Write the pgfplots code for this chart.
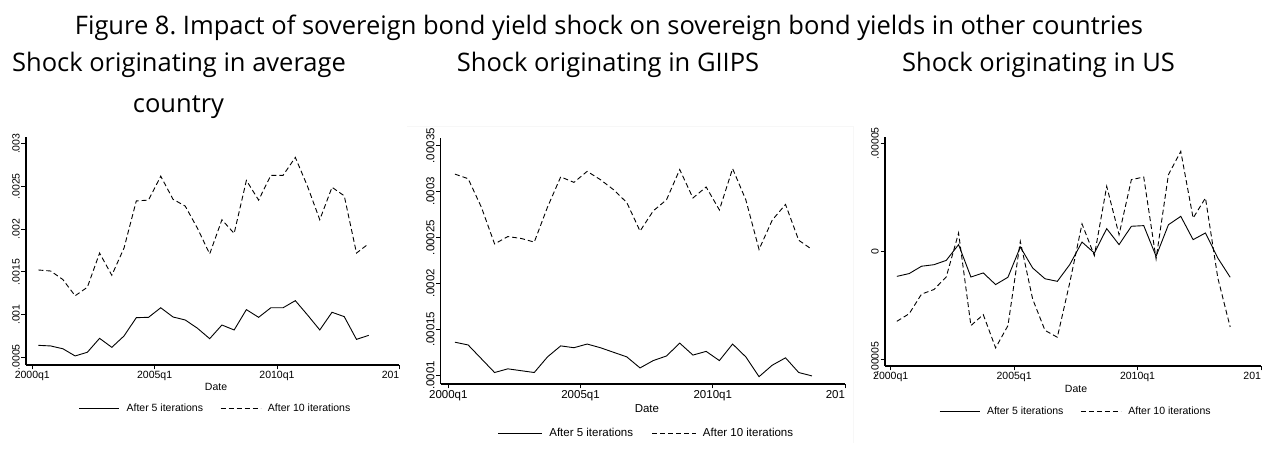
\documentclass[border=0pt]{standalone}
\usepackage{pgfplots}
\pgfplotsset{compat=1.18}
\usepackage{pgfplotstable}
\usepackage{fontspec}
\setmainfont{Liberation Sans}
\newfontfamily\headfont{Open Sans}

% Impulse responses, half-yearly points; x = quarters since 2000q1
\pgfplotstableread{
x  a5       a10
1  0.000640 0.001522
3  0.000633 0.001510
5  0.000600 0.001410
7  0.000516 0.001220
9  0.000559 0.001320
11 0.000722 0.001720
13 0.000617 0.001460
15 0.000750 0.001780
17 0.000964 0.002330
19 0.000968 0.002340
21 0.001080 0.002620
23 0.000972 0.002350
25 0.000937 0.002270
27 0.000840 0.002010
29 0.000718 0.001710
31 0.000878 0.002110
33 0.000820 0.001950
35 0.001058 0.002570
37 0.000968 0.002340
39 0.001080 0.002630
41 0.001080 0.002630
43 0.001163 0.002840
45 0.000995 0.002500
47 0.000820 0.002110
49 0.001027 0.002490
51 0.000976 0.002390
53 0.000710 0.001720
55 0.000757 0.001830
}\avgtab

\pgfplotstableread{
x  a5        a10
1  0.000136  0.000319
3  0.000133  0.000314
5  0.000118  0.000283
7  0.000103  0.000243
9  0.000107  0.000251
11 0.000105  0.000249
13 0.000103  0.000245
15 0.000120  0.000283
17 0.000132  0.000316
19 0.000130  0.000310
21 0.000134  0.000322
23 0.000130  0.000313
25 0.000125  0.000302
27 0.000120  0.000288
29 0.000108  0.000257
31 0.000116  0.000279
33 0.000121  0.000291
35 0.000135  0.000324
37 0.000122  0.000293
39 0.000126  0.000305
41 0.000116  0.000280
43 0.000134  0.000325
45 0.000120  0.000291
47 0.0000985 0.000237
49 0.000111  0.000269
51 0.000119  0.000286
53 0.000103  0.000247
55 0.0000993 0.000237
}\giipstab

\pgfplotstableread{
x  a5         a10
1  -0.0000116 -0.0000324
3  -0.0000103 -0.0000289
5  -0.0000069 -0.0000198
7  -0.0000062 -0.0000177
9  -0.0000042 -0.0000119
11  0.0000031  0.0000085
13 -0.0000119 -0.0000344
15 -0.0000100 -0.0000293
17 -0.0000154 -0.0000447
19 -0.0000120 -0.0000344
21  0.0000020  0.0000046
23 -0.0000077 -0.0000221
25 -0.0000127 -0.0000366
27 -0.0000139 -0.0000398
29 -0.0000062 -0.0000147
31  0.0000043  0.0000127
33 -0.0000008 -0.0000020
35  0.0000105  0.0000301
37  0.0000031  0.0000077
39  0.0000116  0.0000332
41  0.0000119  0.0000344
43 -0.0000023 -0.0000035
45  0.0000123  0.0000355
47  0.0000162  0.0000463
49  0.0000054  0.0000154
51  0.0000085  0.0000247
53 -0.0000031 -0.0000123
55 -0.0000120 -0.0000350
}\ustab

\pgfplotsset{
  stata/.style={
    scale only axis,
    axis lines=left,
    axis line style={-, line width=1.1pt, black},
    tick align=outside,
    major tick length=4.5pt,
    tick style={line width=0.9pt, black},
    xtick={0,20,40,60},
    xmax=60,
    scaled y ticks=false,
    xlabel={Date},
    yticklabel style={rotate=90, anchor=south, inner sep=1.5pt},
    xticklabel style={anchor=north, inner sep=1.5pt},
    legend columns=2,
    legend style={draw=none, fill=none, nodes={inner sep=0pt}},
  },
  f105/.style={
    ticklabel style={font=\fontsize{10.5}{12}\selectfont},
    label style={font=\fontsize{10.5}{12}\selectfont},
    legend image code/.code={\draw[##1] (0pt,0pt) -- (40pt,0pt);},
    legend style={font=\fontsize{10.5}{12}\selectfont,
      /tikz/every odd column/.append style={column sep=7pt},
      /tikz/every even column/.append style={column sep=17pt}},
  },
  f115/.style={
    ticklabel style={font=\fontsize{11.5}{13}\selectfont},
    label style={font=\fontsize{11.5}{13}\selectfont},
    legend image code/.code={\draw[##1] (0pt,0pt) -- (44pt,0pt);},
    legend style={font=\fontsize{11.5}{13}\selectfont,
      /tikz/every odd column/.append style={column sep=6.5pt},
      /tikz/every even column/.append style={column sep=18.5pt}},
  },
  it5/.style={black, line width=0.9pt, solid},
  it10/.style={black, line width=0.9pt, dash pattern=on 5pt off 3pt},
}

\begin{document}
\begin{tikzpicture}[x=1pt,y=1pt]

% faint frame of the middle graph region
\draw[black!3, line width=0.6pt] (407,326) -- (853,326) -- (853,9);

% Shock originating in average country
\begin{axis}[stata, f105,
  at={(26pt,87pt)}, anchor=south west,
  width=373.3pt, height=227.7pt,
  xmin=-1.03, ymin=0.00041, ymax=0.003075,
  ytick={0.0005,0.001,0.0015,0.002,0.0025,0.003},
  yticklabels={.0005,.001,.0015,.002,.0025,.003},
  xticklabels={2000q1,2005q1,2010q1,201\phantom{5q1}},
  xlabel style={at={(axis description cs:0.509,-0.095)}, anchor=center},
  legend style={at={(0.505,-0.193)}, anchor=center}]
\addplot[it5] table[x=x, y=a5] {\avgtab};
\addplot[it10] table[x=x, y=a10] {\avgtab};
\legend{After 5 iterations, After 10 iterations}
\end{axis}

% Shock originating in GIIPS
\begin{axis}[stata, f115,
  at={(440.7pt,68pt)}, anchor=south west,
  width=404.3pt, height=245.7pt,
  xmin=-1.15, ymin=0.0000905, ymax=0.000358,
  ytick={0.0001,0.00015,0.0002,0.00025,0.0003,0.00035},
  yticklabels={.0001,.00015,.0002,.00025,.0003,.00035},
  xticklabels={2000q1,2005q1,2010q1,201\phantom{5q1}},
  xlabel style={at={(axis description cs:0.51,-0.102)}, anchor=center},
  legend style={at={(0.5066,-0.1994)}, anchor=center}]
\addplot[it5] table[x=x, y=a5] {\giipstab};
\addplot[it10] table[x=x, y=a10] {\giipstab};
\legend{After 5 iterations, After 10 iterations}
\end{axis}

% Shock originating in US
\begin{axis}[stata, f105,
  at={(885pt,86pt)}, anchor=south west,
  width=376pt, height=228.7pt,
  xmin=-0.92, ymin=-0.0000531, ymax=0.0000528,
  ytick={-0.00005,0,0.00005},
  yticklabels={-.00005,0,.00005},
  xticklabels={2000q1,2005q1,2010q1,201\phantom{5q1}},
  xlabel style={at={(axis description cs:0.508,-0.10)}, anchor=center},
  legend style={at={(0.505,-0.197)}, anchor=center}]
\addplot[it5] table[x=x, y=a5] {\ustab};
\addplot[it10] table[x=x, y=a10] {\ustab};
\legend{After 5 iterations, After 10 iterations}
\end{axis}

% Figure and panel titles
\begin{scope}[every node/.style={anchor=base, inner sep=0pt, font=\headfont\fontsize{25.5}{30}\selectfont}]
\node at (609,417) {Figure 8.\ Impact of sovereign bond yield shock on sovereign bond yields in other countries};
\node at (179,380) {Shock originating in average};
\node at (178.5,339) {country};
\node at (608,380) {Shock originating in GIIPS};
\node at (1038.5,380) {Shock originating in US};
\end{scope}

\pgfresetboundingbox
\path[use as bounding box] (0,0) rectangle (1262,452);
\end{tikzpicture}
\end{document}
